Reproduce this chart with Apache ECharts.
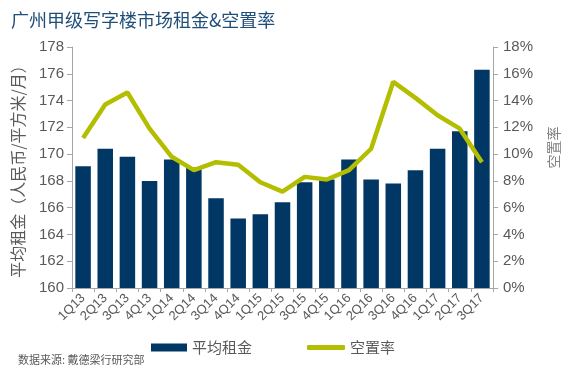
<!DOCTYPE html>
<html><head><meta charset="utf-8">
<script src="https://cdn.jsdelivr.net/npm/echarts@6/dist/echarts.min.js"></script>
<style>html,body{margin:0;padding:0;background:#fff}#c{width:569px;height:372px}</style>
</head><body><div id="c"></div>
<script>
const categories = ['1Q13','2Q13','3Q13','4Q13','1Q14','2Q14','3Q14','4Q14','1Q15','2Q15','3Q15','4Q15','1Q16','2Q16','3Q16','4Q16','1Q17','2Q17','3Q17'];
const rentValues = [169.1,170.4,169.8,168.0,169.6,169.0,166.7,165.2,165.5,166.4,167.9,168.1,169.6,168.1,167.8,168.8,170.4,171.7,176.3];
const vacancyValues = [11.2,13.7,14.6,11.9,9.8,8.8,9.4,9.2,7.9,7.2,8.3,8.1,8.8,10.4,15.4,14.2,12.9,11.9,9.4];
const leftTicks = {min:160, max:178, interval:2};
const rightTicks = {min:0, max:18, interval:2};

const chart = echarts.init(document.getElementById('c'));
const gray = '#595959';
const axisGray = '#a6a6a6';
const font = '"Noto Sans CJK SC", "Liberation Sans", sans-serif';
chart.setOption({
  animation:false,
  textStyle:{fontFamily:font},
  title:{text:'广州甲级写字楼市场租金&空置率', left:6, top:6,
    textStyle:{fontSize:18, fontWeight:'normal', color:'#1f4e79', fontFamily:font}},
  grid:{left:72, right:72, top:47, bottom:84},
  legend:[
    {data:[{name:'平均租金', icon:'rect'}], left:146, top:335, itemWidth:36, itemHeight:8, itemGap:6,
      textStyle:{fontSize:15, color:gray, fontFamily:font}},
    {data:[{name:'空置率', icon:'roundRect'}], left:302, top:335, itemWidth:38, itemHeight:5, itemGap:6,
      textStyle:{fontSize:15, color:gray, fontFamily:font}}
  ],
  graphic:[{type:'text', left:18, top:354, style:{text:'数据来源: 戴德梁行研究部', fontSize:11, fill:gray, fontFamily:font}}],
  xAxis:{type:'category', data:categories,
    axisLine:{lineStyle:{color:axisGray, width:1}},
    axisTick:{show:true, alignWithLabel:false, length:4, lineStyle:{color:axisGray}},
    axisLabel:{rotate:45, color:gray, fontSize:13, margin:8, interval:0, fontFamily:'"Liberation Sans", sans-serif'}},
  yAxis:[
    {type:'value', min:leftTicks.min, max:leftTicks.max, interval:leftTicks.interval,
      name:'平均租金（人民币/平方米/月）', nameLocation:'middle', nameRotate:90, nameGap:46,
      nameTextStyle:{fontSize:16, color:gray, fontFamily:font},
      axisLine:{show:true, lineStyle:{color:axisGray}},
      axisTick:{show:true, length:5, lineStyle:{color:axisGray}},
      splitLine:{show:false},
      axisLabel:{color:gray, fontSize:15, margin:8, fontFamily:'"Liberation Sans", sans-serif'}},
    {type:'value', min:rightTicks.min, max:rightTicks.max, interval:rightTicks.interval, position:'right',
      name:'空置率', nameLocation:'middle', nameRotate:90, nameGap:54,
      nameTextStyle:{fontSize:14, color:'#7f7f7f', fontFamily:font, padding:[0,0,0,40]},
      axisLine:{show:true, lineStyle:{color:axisGray}},
      axisTick:{show:true, length:5, lineStyle:{color:axisGray}},
      splitLine:{show:false},
      axisLabel:{color:gray, fontSize:15, margin:10, formatter:'{value}%', fontFamily:'"Liberation Sans", sans-serif'}}
  ],
  series:[
    {name:'平均租金', type:'bar', data:rentValues, yAxisIndex:0, barCategoryGap:'30%',
      itemStyle:{color:'#003764'}},
    {name:'空置率', type:'line', data:vacancyValues, yAxisIndex:1, symbol:'none',
      lineStyle:{color:'#b4be00', width:4.5}, itemStyle:{color:'#b4be00'}}
  ]
});
</script></body></html>
